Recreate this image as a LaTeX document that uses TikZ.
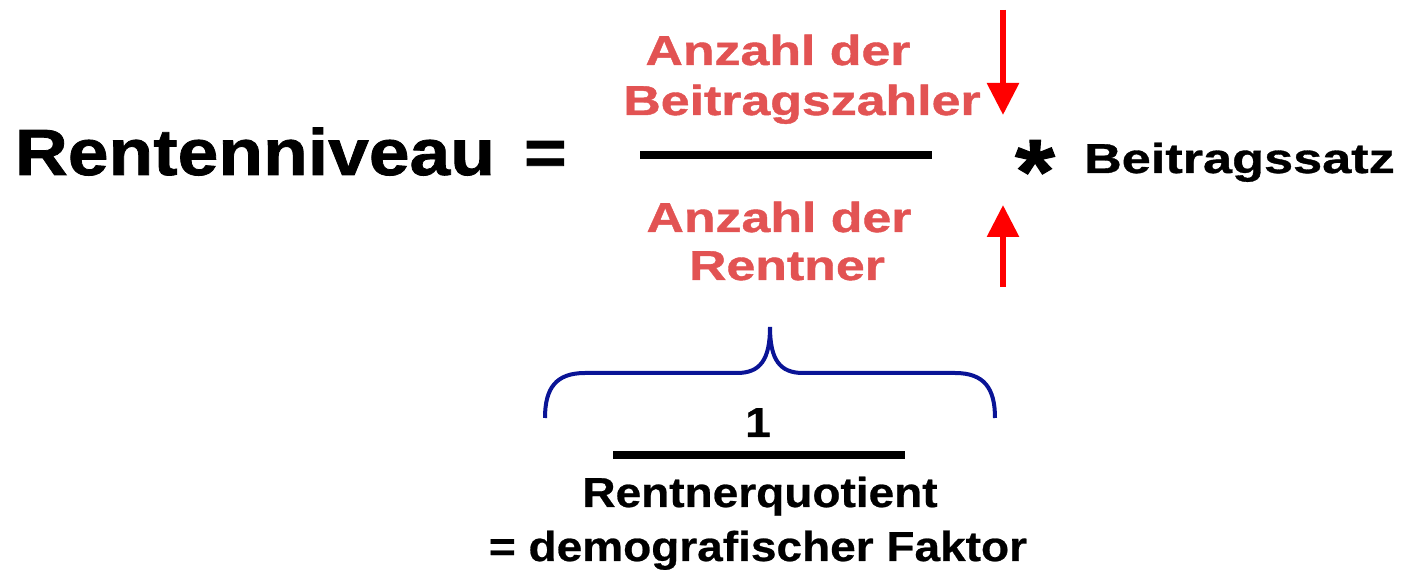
\documentclass[tikz,border=0pt]{standalone}
\usepackage{fontspec}
\setmainfont{Liberation Sans}
\newfontfamily\bigfont[FakeStretch=1.12, FakeBold=1.2]{Liberation Sans}
\newfontfamily\widefont[FakeStretch=1.24, FakeBold=1.0]{Liberation Sans}
\newfontfamily\satzfont[FakeStretch=1.25, FakeBold=0.8]{Liberation Sans}
\newfontfamily\lowfont[FakeStretch=1.1, FakeBold=0.6]{Liberation Sans}
\usepackage{tikz}
\usetikzlibrary{arrows.meta, positioning, calc}
\definecolor{zahlred}{RGB}{226,83,83}
\definecolor{pfeilred}{RGB}{255,0,0}
\definecolor{braceblue}{RGB}{10,20,150}

\begin{document}
\begin{tikzpicture}[
				x=0.02cm, y=-0.02cm,
				txt/.style={inner sep=0pt, outer sep=0pt},
				gross/.style={txt, anchor=base west, font=\bigfont\bfseries\fontsize{37.2}{40}\selectfont},
				anzahl/.style={txt, anchor=base, text=zahlred, font=\widefont\bfseries\fontsize{23.8}{26}\selectfont},
				klein/.style={txt, anchor=base, font=\lowfont\bfseries\fontsize{23.8}{26}\selectfont},
				bar/.style={line width=0.17cm},
				arrow/.style={-{Triangle[width=0.62cm, length=0.64cm]}, line width=0.12cm, color=pfeilred},
				brace/.style={line width=0.08cm, color=braceblue}
				]
				\useasboundingbox (0,0) rectangle (1401,570);
				
				% Nodes
				\node[gross] (rente) at (15,175) {Rentenniveau};
				\node[gross] (gleich) at (524,175) {=};
				\node[anzahl] (zaehlerA) at (778,65) {Anzahl der};
				\node[anzahl] (zaehlerB) at (802,115) {Beitragszahler};
				\node[anzahl] (nennerA) at (779,232) {Anzahl der};
				\node[anzahl] (nennerB) at (787,280) {Rentner};
				\node[txt, anchor=base, font=\bigfont\bfseries\fontsize{52}{52}\selectfont] (mal) at (1035,203) {*};
				\node[txt, anchor=base west, font=\satzfont\bfseries\fontsize{23.8}{26}\selectfont] (satz) at (1084,173) {Beitragssatz};
				\node[klein] (eins) at (758,437) {1};
				\node[klein] (quotient) at (760,507) {Rentnerquotient};
				\node[klein] (faktor) at (758,561) {= demografischer Faktor};
				
				% Bars
				\coordinate (bruchL) at (640,155);
				\coordinate (bruchR) at (932,155);
				\coordinate (strichL) at (613,455);
				\coordinate (strichR) at (905,455);
				\draw[bar] (bruchL) -- (bruchR);
				\draw[bar] (strichL) -- (strichR);
				
				% Arrows
				\coordinate (obenS) at (1003,10);
				\coordinate (obenE) at (1003,115);
				\coordinate (untenS) at (1003,287);
				\coordinate (untenE) at (1003,205);
				\draw[arrow] (obenS) -- (obenE);
				\draw[arrow] (untenS) -- (untenE);
				
				% Brace
				\draw[brace] (545,418) .. controls (545,388) and (556,373) .. (585,373) -- (737,373)
				.. controls (760,373) and (770,360) .. (770,327)
				.. controls (770,360) and (780,373) .. (803,373) -- (955,373)
				.. controls (984,373) and (995,388) .. (995,418);
				
			\end{tikzpicture}
\end{document}
